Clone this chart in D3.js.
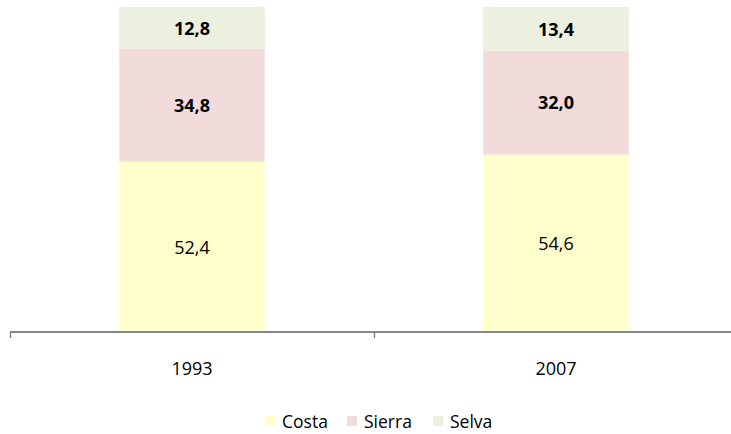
<!DOCTYPE html>
<html>
<head>
<meta charset="utf-8">
<script src="https://d3js.org/d3.v7.min.js"></script>
<style>
  body { margin: 0; background: #fff; }
  text { font-family: "Open Sans", "Noto Sans", sans-serif; fill: #000; }
</style>
</head>
<body>
<svg width="731" height="434"></svg>
<script>
var years = ["1993", "2007"];
var regions = ["Costa", "Sierra", "Selva"];
var costa = [52.4, 54.6];
var sierra = [34.8, 32.0];
var selva = [12.8, 13.4];
var colors = ["#FFFFCC", "#F2DCDB", "#EBF1DE"];

var rows = years.map(function(y, i) {
  return { year: y, Costa: costa[i], Sierra: sierra[i], Selva: selva[i] };
});

var svg = d3.select("svg");
var x = d3.scaleBand().domain(years).range([10, 738]).paddingInner(0).paddingOuter(0);
var barW = x.bandwidth() / 2.5;
var y = d3.scaleLinear().domain([0, 100]).range([332, 7]);

var stack = d3.stack().keys(regions)(rows);

var layers = svg.selectAll("g.layer")
  .data(stack)
  .enter().append("g")
  .attr("fill", function(d, i) { return colors[i]; });

layers.selectAll("rect")
  .data(function(d) { return d; })
  .enter().append("rect")
  .attr("x", function(d) { return x(d.data.year) + (x.bandwidth() - barW) / 2; })
  .attr("y", function(d) { return y(d[1]); })
  .attr("width", barW)
  .attr("height", function(d) { return y(d[0]) - y(d[1]); });

// value labels
stack.forEach(function(layer, li) {
  svg.selectAll(null)
    .data(layer)
    .enter().append("text")
    .attr("x", function(d) { return x(d.data.year) + x.bandwidth() / 2; })
    .attr("y", function(d) { return (y(d[0]) + y(d[1])) / 2; })
    .attr("dy", "0.38em")
    .attr("text-anchor", "middle")
    .attr("font-size", 18)
    .attr("font-weight", li === 0 ? "normal" : "bold")
    .text(function(d) { return (d[1] - d[0]).toFixed(1).replace(".", ","); });
});

// axis
var axis = svg.append("g").attr("transform", "translate(0,332)")
  .call(d3.axisBottom(x).tickSize(0).tickPadding(30));
axis.select(".domain").attr("stroke", "#868686").attr("stroke-width", 2).attr("d", "M10,0H738");
axis.selectAll("text").attr("font-size", 18).attr("font-family", "Open Sans, sans-serif").attr("fill", "#000");
var bounds = x.domain().map(function(d) { return x(d); }).concat([x.range()[1]]);
axis.selectAll("line.sep")
  .data(bounds)
  .enter().append("line")
  .attr("class", "sep")
  .attr("x1", function(d) { return d + 0.5; })
  .attr("x2", function(d) { return d + 0.5; })
  .attr("y1", 0).attr("y2", 6)
  .attr("stroke", "#868686").attr("stroke-width", 1.5);

// legend
var legendX = [265, 347, 433];
var legend = svg.selectAll("g.leg")
  .data(regions)
  .enter().append("g")
  .attr("transform", function(d, i) { return "translate(" + legendX[i] + ",416)"; });
legend.append("rect")
  .attr("width", 10).attr("height", 10)
  .attr("fill", function(d, i) { return colors[i]; });
legend.append("text")
  .attr("x", 17).attr("y", 5).attr("dy", "0.38em")
  .attr("font-size", 17.5)
  .text(function(d) { return d; });
</script>
</body>
</html>
